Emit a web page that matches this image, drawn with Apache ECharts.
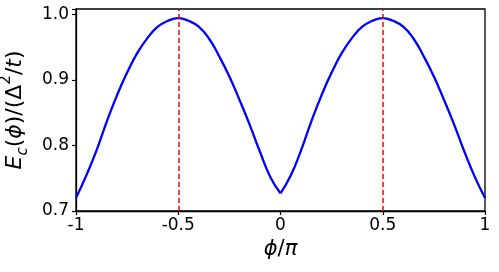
<!DOCTYPE html>
<html>
<head>
<meta charset="utf-8">
<script src="https://cdn.jsdelivr.net/npm/echarts@6/dist/echarts.min.js"></script>
<style>
html,body{margin:0;padding:0;background:#fff;}
#c{width:499px;height:272px;}
</style>
</head>
<body>
<div id="c"></div>
<script>
const phi = [-1.00,-0.95,-0.90,-0.85,-0.80,-0.75,-0.70,-0.65,-0.60,-0.55,-0.50,
             -0.45,-0.40,-0.35,-0.30,-0.25,-0.20,-0.15,-0.10,-0.05,0.00,
             0.05,0.10,0.15,0.20,0.25,0.30,0.35,0.40,0.45,0.50,
             0.55,0.60,0.65,0.70,0.75,0.80,0.85,0.90,0.95,1.00];
const energy = [0.720,0.754,0.792,0.836,0.876,0.911,0.941,0.964,0.981,0.990,0.994,
                0.990,0.981,0.963,0.936,0.905,0.869,0.831,0.790,0.752,0.727,
                0.754,0.792,0.836,0.876,0.911,0.941,0.964,0.981,0.990,0.994,
                0.990,0.981,0.963,0.936,0.905,0.869,0.831,0.790,0.752,0.720];
const markerX = [-0.5, 0.5];
const xTicks = [-1, -0.5, 0, 0.5, 1];
const yTicks = [0.7, 0.8, 0.9, 1.0];

const FONT = 'DejaVu Sans';
const pts = phi.map((x, i) => [x, energy[i]]);
const leftBranch = pts.filter(p => p[0] <= 0);
const rightBranch = pts.filter(p => p[0] >= 0);
const lineStyle = {color: '#0000ff', width: 2.3};

const chart = echarts.init(document.getElementById('c'), null, {renderer:'canvas'});
chart.setOption({
  animation: false,
  grid: {left: 76, right: 14, top: 9, bottom: 61, show: true, borderColor: '#000', borderWidth: 1.3,
         backgroundColor: 'transparent', outerBoundsMode: 'none', containLabel: false},
  xAxis: {
    type: 'value', min: xTicks[0], max: xTicks[xTicks.length-1], interval: 0.5,
    axisLine: {show: true, onZero: false, lineStyle: {color: '#000', width: 1.3}},
    axisTick: {show: true, inside: false, length: 4, lineStyle: {color: '#000', width: 1.2}},
    splitLine: {show: false},
    axisLabel: {color: '#000', fontFamily: FONT, fontSize: 17, margin: 6,
      formatter: v => { const t = xTicks.find(k => Math.abs(k - v) < 1e-9); return t === undefined ? '' : String(t); }},
    name: '{i|ϕ}{n|/}{i|π}',
    nameLocation: 'middle', nameGap: 22,
    nameTextStyle: {color: '#000', verticalAlign: 'top',
      rich: {i: {fontFamily: FONT, fontStyle: 'italic', fontSize: 21, color: '#000'},
             n: {fontFamily: FONT, fontSize: 21, color: '#000'}}}
  },
  yAxis: {
    type: 'value', min: yTicks[0], max: 1.008, interval: 0.1,
    axisLine: {show: true, onZero: false, lineStyle: {color: '#000', width: 1.3}},
    axisTick: {show: true, inside: false, length: 4, lineStyle: {color: '#000', width: 1.2}},
    splitLine: {show: false},
    axisLabel: {color: '#000', fontFamily: FONT, fontSize: 17, margin: 7,
      formatter: v => { const t = yTicks.find(k => Math.abs(k - v) < 1e-9); return t === undefined ? '' : t.toFixed(1); }},
    name: '{i|E}{sub|c}{n|(}{i|ϕ}{n|)/(Δ}{sup|2}{n|/}{i|t}{n|)}',
    nameLocation: 'middle', nameGap: 44, nameRotate: 90,
    nameTextStyle: {color: '#000',
      rich: {i: {fontFamily: FONT, fontStyle: 'italic', fontSize: 22, color: '#000', lineHeight: 32},
             n: {fontFamily: FONT, fontSize: 22, color: '#000', lineHeight: 32},
             sub: {fontFamily: FONT, fontStyle: 'italic', fontSize: 15, color: '#000', verticalAlign: 'bottom', lineHeight: 32},
             sup: {fontFamily: FONT, fontSize: 15, color: '#000', verticalAlign: 'top', lineHeight: 32}}}
  },
  series: [{
    type: 'line',
    data: leftBranch,
    showSymbol: false, smooth: 0.5,
    lineStyle: lineStyle, itemStyle: {color: '#0000ff'},
    z: 3,
    markLine: {
      silent: true, symbol: 'none', label: {show: false},
      lineStyle: {color: '#ff0000', type: [5, 3], width: 1.5},
      data: markerX.map(x => ({xAxis: x}))
    }
  }, {
    type: 'line',
    data: rightBranch,
    showSymbol: false, smooth: 0.5,
    lineStyle: lineStyle, itemStyle: {color: '#0000ff'},
    z: 3
  }]
});
</script>
</body>
</html>
